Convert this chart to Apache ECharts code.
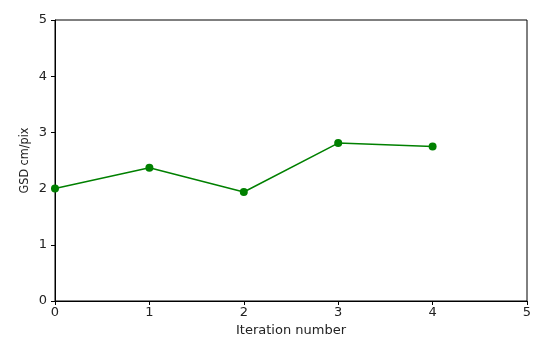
<!DOCTYPE html>
<html><head><meta charset="utf-8">
<script src="https://cdn.jsdelivr.net/npm/echarts@6/dist/echarts.min.js"></script>
<style>html,body{margin:0;padding:0;background:#fff}#c{width:550px;height:347px}</style>
</head><body><div id="c"></div>
<script>
const iterations = [0, 1, 2, 3, 4];
const gsd = [2.0, 2.37, 1.94, 2.81, 2.75];
const xTicks = [0, 1, 2, 3, 4, 5];
const yTicks = [0, 1, 2, 3, 4, 5];

const chart = echarts.init(document.getElementById('c'));
const axisCommon = {
  axisLine: {show: true, lineStyle: {color: '#000', width: 1}},
  axisTick: {show: true, length: 4, lineStyle: {color: '#000'}},
  splitLine: {show: false}
};
chart.setOption({
  animation: false,
  grid: {left: 55, right: 23, top: 20, bottom: 46, show: true, borderColor: '#000', borderWidth: 1},
  xAxis: Object.assign({}, axisCommon, {
    type: 'value', min: xTicks[0], max: xTicks[xTicks.length - 1], interval: 1,
    name: 'Iteration number', nameLocation: 'middle', nameGap: 21,
    nameTextStyle: {fontFamily: 'DejaVu Sans', fontSize: 13, color: '#222'},
    axisLabel: {color: '#222', fontFamily: 'DejaVu Sans', fontSize: 13, margin: 5}
  }),
  yAxis: Object.assign({}, axisCommon, {
    type: 'value', min: yTicks[0], max: yTicks[yTicks.length - 1], interval: 1,
    name: 'GSD cm/pix', nameLocation: 'middle', nameGap: 24, nameMoveOverlap: false,
    nameTextStyle: {fontFamily: 'DejaVu Sans Condensed', fontSize: 12.5, color: '#222'},
    axisLabel: {color: '#222', fontFamily: 'DejaVu Sans', fontSize: 13, margin: 8}
  }),
  series: [{
    type: 'line',
    data: iterations.map((x, i) => [x, gsd[i]]),
    symbol: 'circle', symbolSize: 8,
    lineStyle: {color: '#008000', width: 1.5},
    itemStyle: {color: '#008000'}
  }]
});
</script></body></html>
